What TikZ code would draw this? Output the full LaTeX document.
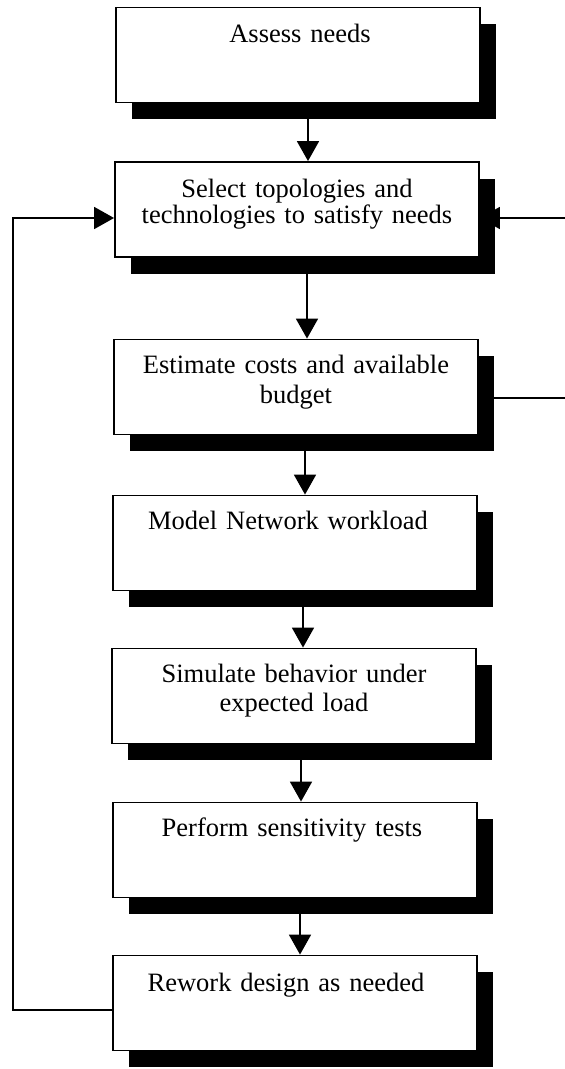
\documentclass[tikz,border=0pt]{standalone}
\usepackage{fontspec}
\setmainfont{Liberation Serif}
\usetikzlibrary{arrows.meta,calc}
\begin{document}
\begin{tikzpicture}[x=1pt,y=-1pt,
  stepbox/.style={draw=black, line width=1.9pt, fill=white,
    minimum width=364pt, minimum height=95pt, inner sep=0pt},
  boxshadow/.style={fill=black, draw=none,
    minimum width=364pt, minimum height=95pt, inner sep=0pt},
  lbl/.style={anchor=base, text width=350pt, align=center, inner sep=0pt,
    font=\fontsize{26.5}{29}\selectfont},
  link/.style={line width=1.9pt},
  arr/.style={link, -{Triangle[width=22pt,length=20pt]}}]
\useasboundingbox (0,0) rectangle (565,1069);

% drop shadows, offset down and to the right
\node[boxshadow] (s1) at (314,71)   {};
\node[boxshadow] (s2) at (313,226)  {};
\node[boxshadow] (s3) at (312,403)  {};
\node[boxshadow] (s4) at (311,559)  {};
\node[boxshadow] (s5) at (310,712)  {};
\node[boxshadow] (s6) at (311,866)  {};
\node[boxshadow] (s7) at (311,1019) {};

% process boxes
\node[stepbox] (b1) at (298,55)   {};
\node[stepbox] (b2) at (297,209.5){};
\node[stepbox] (b3) at (296,387)  {};
\node[stepbox] (b4) at (295,543)  {};
\node[stepbox] (b5) at (294,696)  {};
\node[stepbox] (b6) at (295,850)  {};
\node[stepbox] (b7) at (295,1003) {};

% box captions
\node[lbl] (t1) at ($(b1.north)+(2,36)$) {Assess needs};
\node[lbl, font=\fontsize{26.5}{26}\selectfont] (t2) at ($(b2.north)+(0,36)$)
  {Select topologies and\\technologies to satisfy needs};
\node[lbl, font=\fontsize{26.5}{30}\selectfont] (t3) at ($(b3.north)+(0,35)$)
  {Estimate costs and available\\budget};
\node[lbl] (t4) at ($(b4.north)+(-7,35)$) {Model Network workload};
\node[lbl] (t5) at ($(b5.north)+(0,35)$) {Simulate behavior under\\expected load};
\node[lbl] (t6) at ($(b6.north)+(-3,35)$) {Perform sensitivity tests};
\node[lbl] (t7) at ($(b7.north)+(-9,37)$) {Rework design as needed};

% downward flow
\coordinate (a1) at (308,0);
\coordinate (a2) at (307,0);
\coordinate (a3) at (305,0);
\coordinate (a4) at (303,0);
\coordinate (a5) at (301,0);
\coordinate (a6) at (300,0);
\draw[arr] (s1.south -| a1) -- (b2.north -| a1);
\draw[arr] (s2.south -| a2) -- (b3.north -| a2);
\draw[arr] (s3.south -| a3) -- (b4.north -| a3);
\draw[arr] (s4.south -| a4) -- (b5.north -| a4);
\draw[arr] (s5.south -| a5) -- (b6.north -| a5);
\draw[arr] (s6.south -| a6) -- (b7.north -| a6);

% feedback paths
\coordinate (loopin)  at (0,218);
\coordinate (loopout) at (0,1010);
\coordinate (budget)  at (0,398);
\coordinate (farleft) at (13,0);
\coordinate (farright) at (565,0);
\draw[arr] (b7.west |- loopout) -| (farleft |- loopin) -- (b2.west |- loopin);
\draw[link] (b3.east |- budget) -- (farright |- budget);
\draw[arr] (farright |- loopin) -- (b2.east |- loopin);
\end{tikzpicture}
\end{document}
